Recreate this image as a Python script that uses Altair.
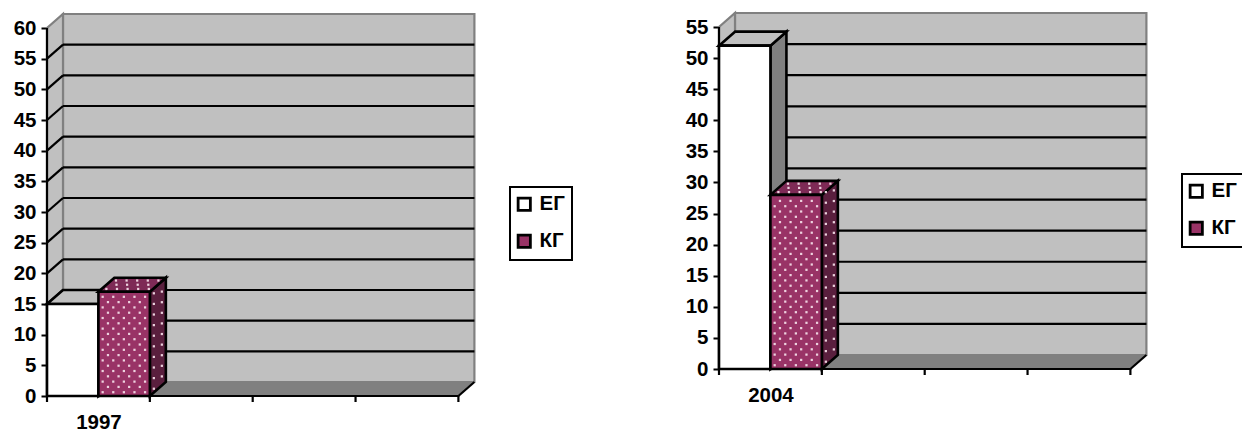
import altair as alt
import pandas as pd

# Survey results per group, one panel per year
SERIES = ["ЕГ", "КГ"]
YEAR_A = "1997"
VALUES_A = [15, 17]
TICKS_A = list(range(0, 65, 5))
YEAR_B = "2004"
VALUES_B = [52, 28]
TICKS_B = list(range(0, 60, 5))

FONT = "Liberation Sans"
WALL = "#c0c0c0"
SHADE = "#808080"
PLUM = "#993366"
PLUM_LID = "#7e2a56"
PLUM_DARK = "#5a1f3e"
SPECK = "#f2dbe6"

CATEGORIES = 4       # slots along the floor; only the first one is populated
SLOT_PX = 102.85     # pixel width of a slot
DEPTH_X_PX = 16      # oblique projection offset
DEPTH_Y_PX = 14
SPECK_PX = 5.3       # pitch of the dotted fill


def quad_v(x0, x1, y0a, y0b, y1a, y1b):
    """Area rows for a face whose left/right edges are vertical."""
    return pd.DataFrame({"x": [x0, x1], "lo": [y0a, y0b], "hi": [y1a, y1b]})


def quad_h(y0, y1, x0a, x0b, x1a, x1b):
    """Area rows for a face whose bottom/top edges are horizontal."""
    return pd.DataFrame({"y": [y0, y1], "l": [x0a, x0b], "r": [x1a, x1b]})


def panel(year, values, ticks, plot_h, unit_px, legend_y):
    dx = DEPTH_X_PX / SLOT_PX
    dy = DEPTH_Y_PX / unit_px
    top = ticks[-1]
    width = (CATEGORIES + dx) * SLOT_PX
    height = plot_h
    xs = alt.Scale(domain=[0, CATEGORIES + dx], nice=False, zero=False)
    ys = alt.Scale(domain=[0, plot_h / unit_px], nice=False, zero=False)
    x_axis = alt.Axis(
        values=[0.5], labelExpr=f"'{year}'", title=None, grid=False, domain=False,
        ticks=False, labelFont=FONT, labelFontWeight="bold", labelFontSize=20.5,
        labelColor="#000000", labelPadding=16)
    y_axis = alt.Axis(
        values=ticks, title=None, grid=False, domain=False,
        tickColor="#000000", tickWidth=2, tickSize=6, labelFont=FONT,
        labelFontWeight="bold", labelFontSize=20.5, labelColor="#000000",
        labelPadding=5)
    X = lambda f: alt.X(f, scale=xs, axis=x_axis)
    Y = lambda f: alt.Y(f, scale=ys, axis=y_axis)

    def area_v(df, **style):
        return alt.Chart(df).mark_area(**style).encode(x=X("x:Q"), y=Y("lo:Q"), y2="hi:Q")

    def area_h(df, **style):
        return alt.Chart(df).mark_area(orient="horizontal", **style).encode(
            y=Y("y:Q"), x=X("l:Q"), x2="r:Q")

    def segments(rows, color, width_px=2.2):
        df = pd.DataFrame(rows, columns=["x", "x2", "y", "y2"])
        return alt.Chart(df).mark_rule(color=color, strokeWidth=width_px).encode(
            x=X("x:Q"), x2="x2:Q", y=Y("y:Q"), y2="y2:Q")

    layers = [
        # back wall, side wall and floor
        area_v(quad_v(dx, CATEGORIES + dx, dy, dy, top + dy, top + dy),
               fill=WALL, stroke=SHADE, strokeWidth=2.2),
        area_v(quad_v(0, dx, 0, dy, top, top + dy),
               fill=WALL, stroke=SHADE, strokeWidth=2.2),
        area_h(quad_h(0, dy, 0, dx, CATEGORIES, CATEGORIES + dx),
               fill=SHADE, stroke=SHADE, strokeWidth=1),
    ]

    # grid lines run across the back wall and fold down the side wall
    inner = ticks[1:-1]
    layers.append(segments([(dx, CATEGORIES + dx, t + dy, t + dy) for t in inner], "#000000"))
    layers.append(segments([(0, dx, t, t + dy) for t in inner], "#000000"))

    # frame: value axis line, floor front edge, floor corner, slot ticks
    layers.append(segments([(0, 0, 0, top), (0, CATEGORIES, 0, 0),
                            (CATEGORIES, CATEGORIES + dx, 0, dy)], "#000000"))
    layers.append(alt.Chart(pd.DataFrame({"x": list(range(CATEGORIES + 1))}))
                  .mark_rule(color="#000000", strokeWidth=2.2)
                  .encode(x=X("x:Q"), y=alt.value(height), y2=alt.value(height + 6)))

    # boxes: group 0 spans the left half of the slot, group 1 the right half
    bar_w = 0.5
    for i, (name, val) in enumerate(zip(SERIES, values)):
        x0, x1 = i * bar_w, (i + 1) * bar_w
        dotted = name == SERIES[1]
        side = PLUM_DARK if dotted else SHADE
        lid = PLUM_LID if dotted else WALL
        layers.append(area_v(quad_v(x1, x1 + dx, 0, dy, val, val + dy),
                             fill=side, stroke="#000000", strokeWidth=2.6))
        layers.append(area_h(quad_h(val, val + dy, x0, x0 + dx, x1, x1 + dx),
                             fill=lid, stroke="#000000", strokeWidth=2.6))
        front = pd.DataFrame({"x": [x0], "x2": [x1], "y": [0], "y2": [val], "group": [name]})
        layers.append(alt.Chart(front).mark_rect(stroke="#000000", strokeWidth=2.6).encode(
            x=X("x:Q"),
            x2="x2:Q",
            y=Y("y:Q"),
            y2="y2:Q",
            fill=alt.Fill("group:N",
                          scale=alt.Scale(domain=SERIES, range=["#ffffff", PLUM]),
                          legend=alt.Legend(
                              title=None, orient="none",
                              legendX=463, legendY=legend_y,
                              symbolType="square", symbolSize=150,
                              symbolOffset=-3,
                              symbolStrokeColor="#000000", symbolStrokeWidth=2.8,
                              labelFont=FONT, labelFontWeight="bold", labelFontSize=20.5,
                              labelColor="#000000", labelOffset=5,
                              rowPadding=13, padding=7,
                              fillColor="#ffffff", strokeColor="#000000",
                              values=SERIES)),
        ))
        if dotted:
            # speckled fill for the plum faces, clear of the black outlines
            pts = []
            step_x = SPECK_PX / SLOT_PX
            step_y = SPECK_PX / unit_px
            r = 1
            v = step_y / 1.4
            while v < val - step_y / 3:
                u = x0 + step_x * (0.8 if r % 2 else 1.8)
                while u < x1 - step_x / 3:
                    pts.append((u, v))
                    u += 2 * step_x
                v += step_y
                r += 1
            r = 0
            v = step_y / 1.4
            while v < val:
                for k, frac in enumerate([0.25, 0.75]):
                    if (k + r) % 2 == 0:
                        pts.append((x1 + frac * dx, v + frac * dy))
                v += step_y
                r += 1
            for k, frac in enumerate([0.2, 0.5, 0.8]):
                u = x0 + step_x * (0.9 + k % 2)
                while u < x1 - step_x / 3:
                    pts.append((u + frac * dx, val + frac * dy))
                    u += 2 * step_x
            df = pd.DataFrame(pts, columns=["x", "y"])
            layers.append(alt.Chart(df).mark_point(
                shape="square", filled=True, size=5, color=SPECK, opacity=0.95
            ).encode(x=X("x:Q"), y=Y("y:Q")))

    return alt.layer(*layers).properties(width=width, height=height)


left = panel(YEAR_A, VALUES_A, TICKS_A, 382, 6.133, 173)
right = panel(YEAR_B, VALUES_B, TICKS_B, 355, 6.218, 160)

chart = (
    alt.hconcat(left, right, spacing=112)
    .resolve_scale(fill="independent")
    .properties(padding={"left": 13, "top": 8, "right": -3, "bottom": 0}, background="#ffffff")
    .configure_view(stroke=None)
    .configure_legend(strokeWidth=2)
)
chart.save("out.html", embed_options={"renderer": "svg", "actions": False})
